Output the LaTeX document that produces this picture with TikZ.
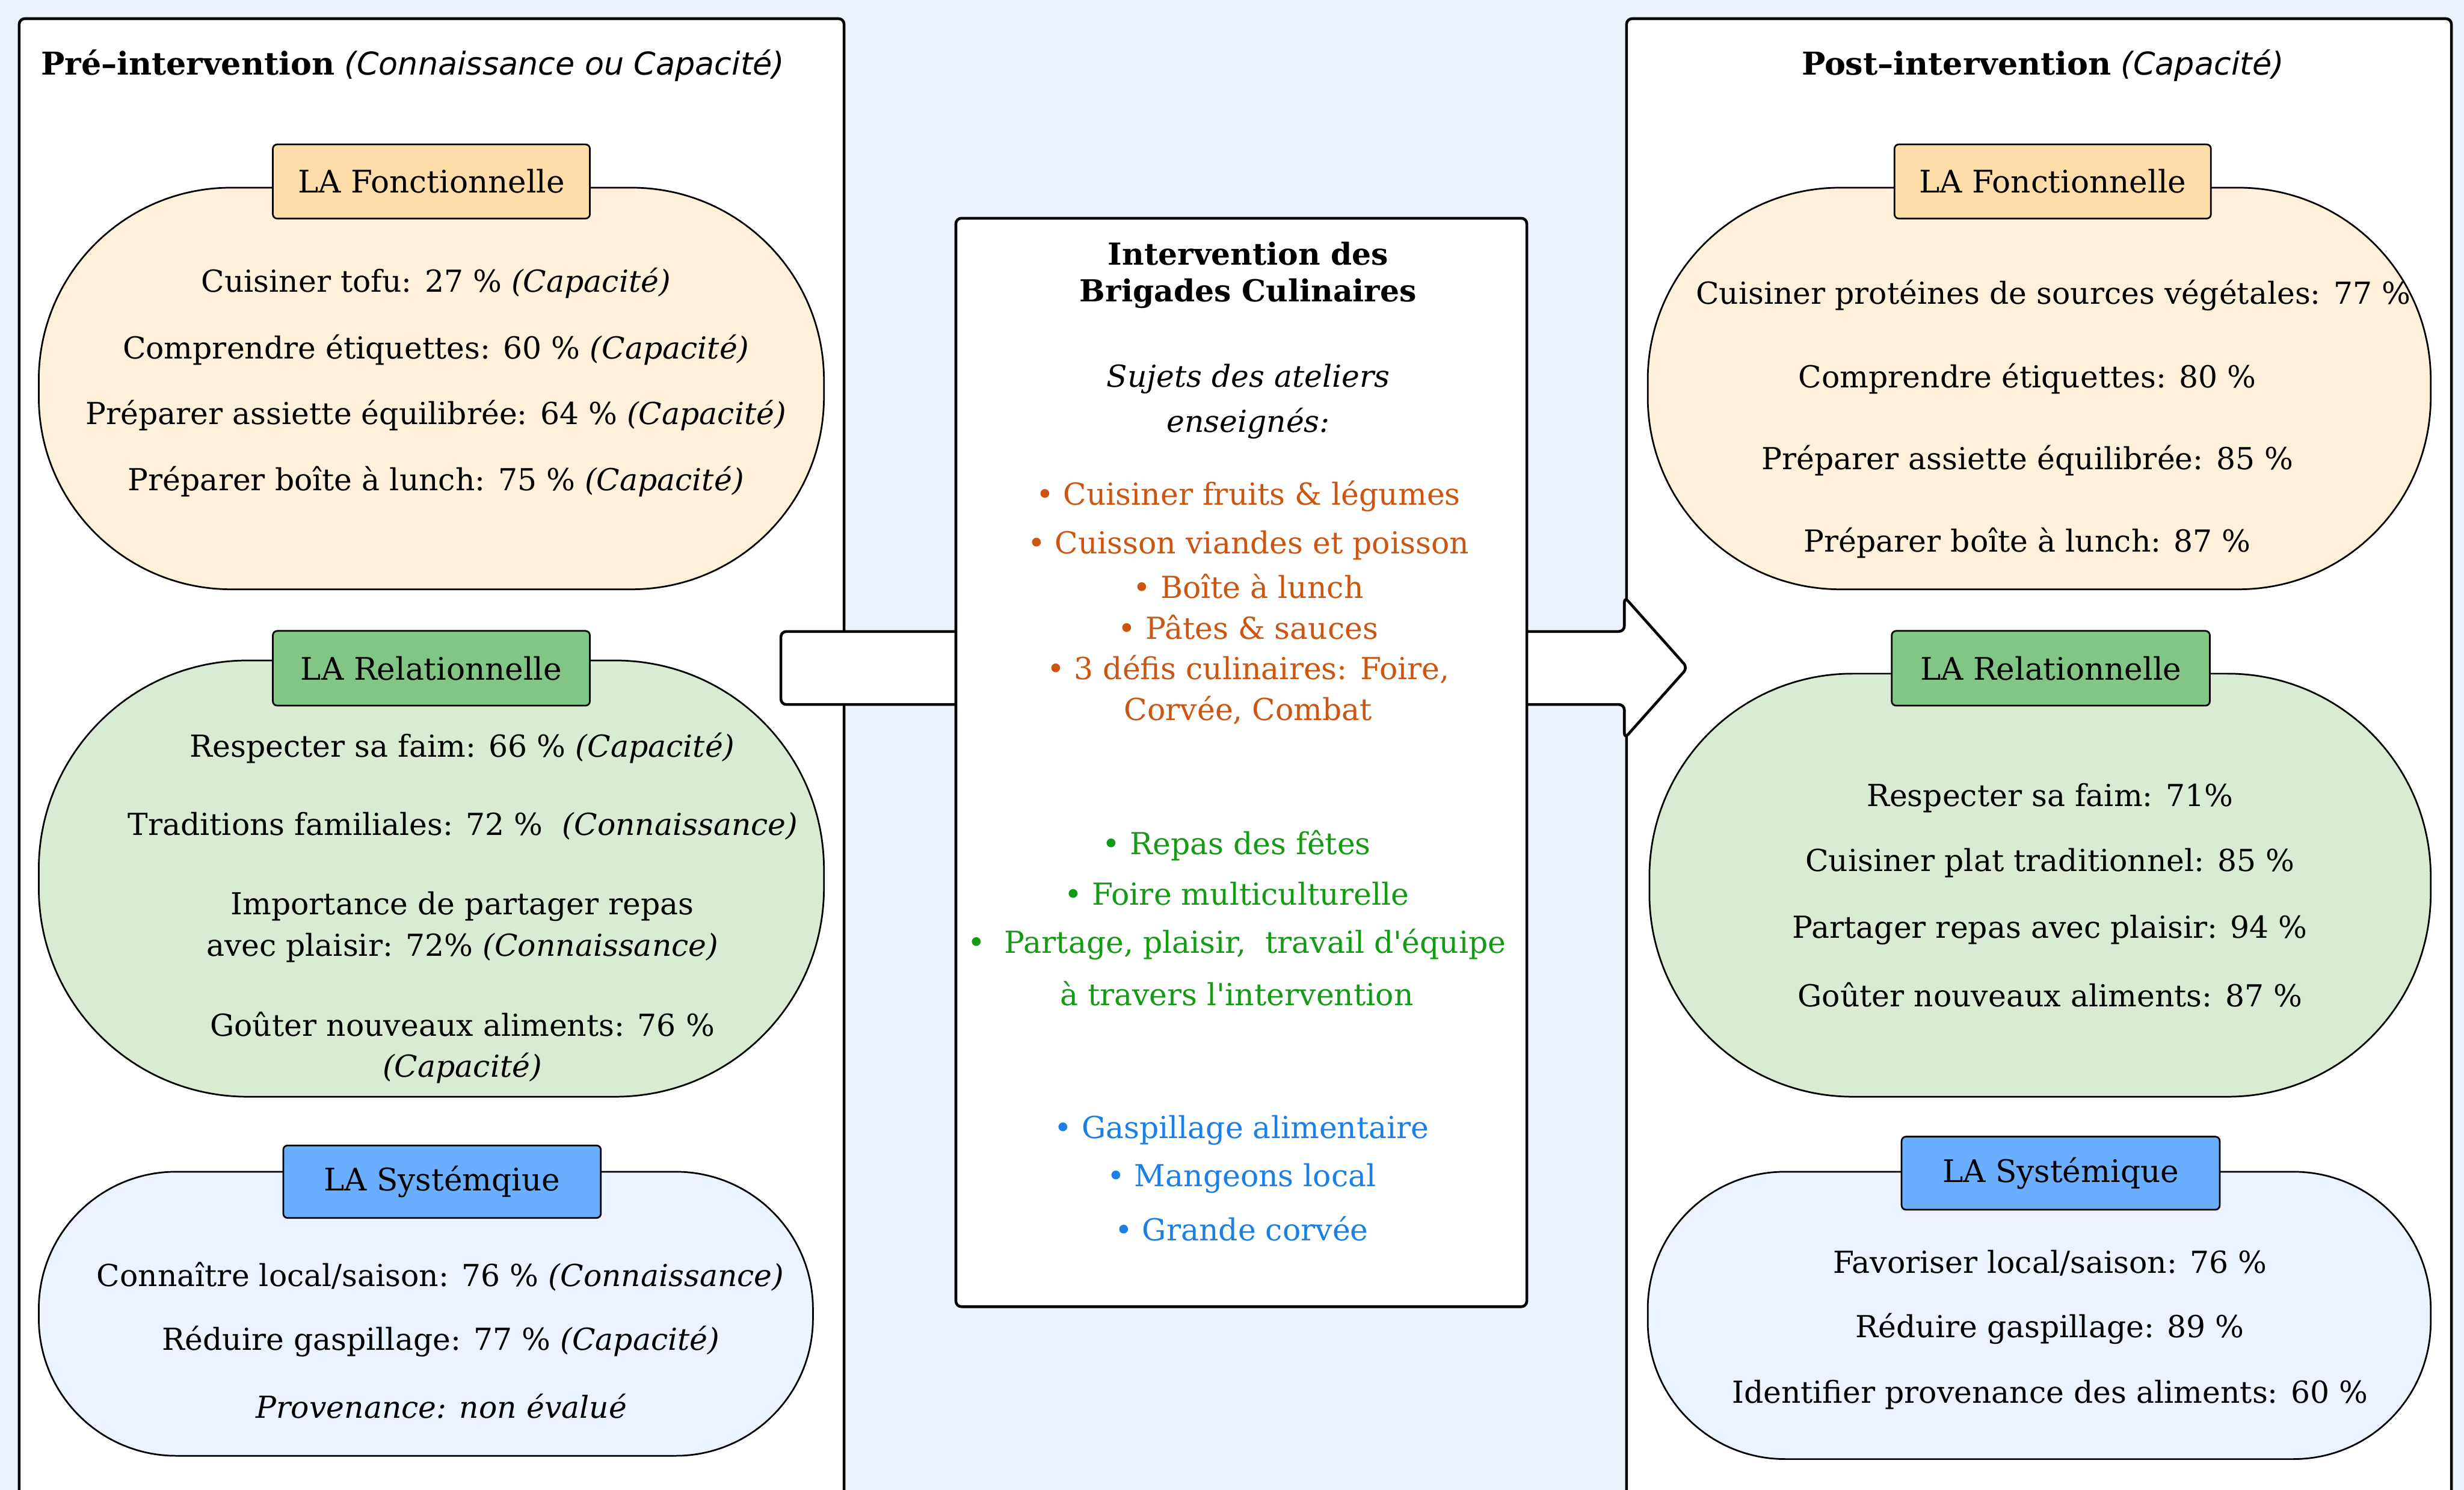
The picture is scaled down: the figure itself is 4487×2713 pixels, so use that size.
\documentclass[tikz,border=0pt]{standalone}
\usepackage{fontspec}
\setmainfont{DejaVu Serif}
\newfontfamily\subfont{DejaVu Sans}
\newcommand\bodyfs{\fontsize{15.7}{21.3}\selectfont}
\newcommand\tagfs{\fontsize{16.1}{20}\selectfont}
\newcommand\titlefs{\fontsize{16.3}{20}\selectfont}
\definecolor{bgc}{HTML}{EBF2FB}
\definecolor{fonctfill}{HTML}{FFF1D9}
\definecolor{fonctlab}{HTML}{FFDDA8}
\definecolor{relfill}{HTML}{DAEBD3}
\definecolor{rellab}{HTML}{82C685}
\definecolor{sysfill}{HTML}{EAF3FF}
\definecolor{syslab}{HTML}{6AAFFF}
\definecolor{orangetxt}{HTML}{CC5511}
\definecolor{greentxt}{HTML}{159A15}
\definecolor{bluetxt}{HTML}{1A7FE6}
\begin{document}
\begin{tikzpicture}[x=0.01cm,y=-0.01cm,
  panel/.style={draw=black, fill=white, line width=0.05cm, rounded corners=0.1cm},
  blob/.style={draw=black, line width=0.03cm, inner sep=0pt},
  tag/.style={draw=black, line width=0.03cm, rounded corners=0.08cm, inner sep=0pt, font=\tagfs},
  txt/.style={inner sep=0pt, font=\bodyfs, align=center},
  ttl/.style={inner sep=0pt, font=\titlefs, align=center},
  otxt/.style={txt, text=orangetxt},
  gtxt/.style={txt, text=greentxt},
  btxt/.style={txt, text=bluetxt}]
\useasboundingbox (0,0) rectangle (4487,2713);
\clip (0,0) rectangle (4487,2713);
\fill[bgc] (0,0) rectangle (4487,2713);
% panels
\draw[panel] (35,34) rectangle (1537,2780);
\draw[panel] (2962,34) rectangle (4464,2780);
% block arrow
\draw[fill=white, line width=0.05cm, rounded corners=0.1cm]
  (1422,1150) -- (2958,1150) -- (2958,1087) -- (3073,1216) -- (2958,1345) -- (2958,1283) -- (1422,1283) -- cycle;
% centre box
\node[draw=black, fill=white, line width=0.05cm, rounded corners=0.1cm, minimum width=10.39cm, minimum height=19.81cm, inner sep=0pt] (centre) at (2260.5,1388.5) {};
% blobs left
\node[blob, fill=fonctfill, minimum width=14.29cm, minimum height=7.31cm, rounded corners=3.5cm] (lfb) at (785.5,707.5) {};
\node[blob, fill=relfill, minimum width=14.29cm, minimum height=7.94cm, rounded corners=3.8cm] (lrb) at (785.5,1600) {};
\node[blob, fill=sysfill, minimum width=14.09cm, minimum height=5.17cm, rounded corners=2.5cm] (lsb) at (775.5,2392.5) {};
% blobs right
\node[blob, fill=fonctfill, minimum width=14.25cm, minimum height=7.31cm, rounded corners=3.5cm] (rfb) at (3713.5,707.5) {};
\node[blob, fill=relfill, minimum width=14.22cm, minimum height=7.70cm, rounded corners=3.7cm] (rrb) at (3715,1612) {};
\node[blob, fill=sysfill, minimum width=14.25cm, minimum height=5.23cm, rounded corners=2.5cm] (rsb) at (3713.5,2395.5) {};
% tags
\node[tag, fill=fonctlab, minimum width=5.77cm, minimum height=1.35cm] (lft) at (785.5,330.5) {LA Fonctionnelle};
\node[tag, fill=rellab, minimum width=5.77cm, minimum height=1.36cm] (lrt) at (785.5,1217) {LA Relationnelle};
\node[tag, fill=syslab, minimum width=5.78cm, minimum height=1.32cm] (lst) at (805,2152) {LA Systémqiue};
\node[tag, fill=fonctlab, minimum width=5.76cm, minimum height=1.35cm] (rft) at (3738,330.5) {LA Fonctionnelle};
\node[tag, fill=rellab, minimum width=5.79cm, minimum height=1.36cm] (rrt) at (3734.5,1217) {LA Relationnelle};
\node[tag, fill=syslab, minimum width=5.79cm, minimum height=1.33cm] (rst) at (3752.5,2136.5) {LA Systémique};
% titles
\node[ttl, anchor=west] (ltitle) at (74,119) {\textbf{Pré–intervention} {\subfont\itshape (Connaissance ou Capacité)}};
\node[ttl] (rtitle) at (3720,119) {\textbf{Post–intervention} {\subfont\itshape (Capacité)}};
% left texts
\node[txt] (lf1) at (794,516) {Cuisiner tofu: 27 \% \textit{(Capacité)}};
\node[txt] (lf2) at (794,637) {Comprendre étiquettes: 60 \% \textit{(Capacité)}};
\node[txt] (lf3) at (794,756) {Préparer assiette équilibrée: 64 \% \textit{(Capacité)}};
\node[txt] (lf4) at (794,877) {Préparer boîte à lunch: 75 \% \textit{(Capacité)}};
\node[txt] (lr1) at (842,1362) {Respecter sa faim: 66 \% \textit{(Capacité)}};
\node[txt] (lr2) at (843,1504) {Traditions familiales: 72 \%\ \ \textit{(Connaissance)}};
\node[txt] (lr3) at (842,1688) {Importance de partager repas\\avec plaisir: 72\% \textit{(Connaissance)}};
\node[txt] (lr4) at (842,1908) {Goûter nouveaux aliments: 76 \%\\\textit{(Capacité)}};
\node[txt] (ls1) at (802,2325) {Connaître local/saison: 76 \% \textit{(Connaissance)}};
\node[txt] (ls2) at (803,2443) {Réduire gaspillage: 77 \% \textit{(Capacité)}};
\node[txt] (ls3) at (804,2561) {\textit{Provenance: non évalué}};
% centre texts
\node[txt] (c1) at (2273,462) {\textbf{Intervention des}};
\node[txt] (c2) at (2273,534) {\textbf{Brigades Culinaires}};
\node[txt] (c3) at (2273,690) {\textit{Sujets des ateliers}};
\node[txt] (c4) at (2273,771) {\textit{enseignés:}};
\node[otxt] (o1) at (2273,904) {• Cuisiner fruits \& légumes};
\node[otxt] (o2) at (2273,993) {• Cuisson viandes et poisson};
\node[otxt] (o3) at (2273,1068) {• Boîte à lunch};
\node[otxt] (o4) at (2273,1142) {• Pâtes \& sauces};
\node[otxt] (o5) at (2273,1219) {• 3 défis culinaires: Foire,};
\node[otxt] (o6) at (2273,1294) {Corvée, Combat};
\node[gtxt] (g1) at (2252,1540) {• Repas des fêtes};
\node[gtxt] (g2) at (2252,1628) {• Foire multiculturelle};
\node[gtxt] (g3) at (2252,1720) {•\ \ Partage, plaisir,\ \ travail d\textquotesingle équipe};
\node[gtxt] (g4) at (2252,1809) {à travers l\textquotesingle intervention};
\node[btxt] (b1) at (2261,2058) {• Gaspillage alimentaire};
\node[btxt] (b2) at (2261,2146) {• Mangeons local};
\node[btxt] (b3) at (2261,2238) {• Grande corvée};
% right texts
\node[txt] (rf1) at (3739,538) {Cuisiner protéines de sources végétales: 77 \%};
\node[txt] (rf2) at (3692,690) {Comprendre étiquettes: 80 \%};
\node[txt] (rf3) at (3692,839) {Préparer assiette équilibrée: 85 \%};
\node[txt] (rf4) at (3692,989) {Préparer boîte à lunch: 87 \%};
\node[txt] (rr1) at (3733,1453) {Respecter sa faim: 71\%};
\node[txt] (rr2) at (3733,1572) {Cuisiner plat traditionnel: 85 \%};
\node[txt] (rr3) at (3733,1693) {Partager repas avec plaisir: 94 \%};
\node[txt] (rr4) at (3733,1812) {Goûter nouveaux aliments: 87 \%};
\node[txt] (rs1) at (3733,2300) {Favoriser local/saison: 76 \%};
\node[txt] (rs2) at (3733,2420) {Réduire gaspillage: 89 \%};
\node[txt] (rs3) at (3733,2540) {Identifier provenance des aliments: 60 \%};
\end{tikzpicture}
\end{document}
